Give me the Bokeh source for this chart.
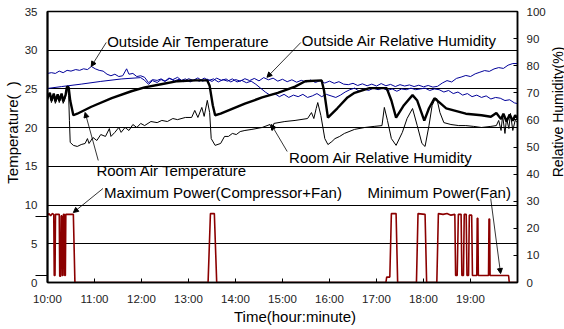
import numpy as np
from bokeh.plotting import figure
from bokeh.layouts import row
from bokeh.models import Range1d, LinearAxis, FixedTicker, Label, Arrow, NormalHead
from bokeh.embed import file_html
from bokeh.resources import INLINE

# ---------------- data (time in minutes after 10:00) ----------------
hour_ticks = [10, 11, 12, 13, 14, 15, 16, 17, 18, 19, 20]
hour_labels = ["10:00", "11:00", "12:00", "13:00", "14:00", "15:00",
               "16:00", "17:00", "18:00", "19:00", ""]
temp_ticks = [0, 5, 10, 15, 20, 25, 30, 35]
power_marks = [0.9, 8.5]
rh_ticks = [0, 10, 20, 30, 40, 50, 60, 70, 80, 90, 100]

outside_temp_min = [0, 5, 10, 15, 20, 25, 30, 36, 41, 46, 51, 56, 61, 66, 71, 76, 81, 86, 91, 96,
                    101, 104, 109, 114, 119, 124, 129, 134, 140, 145, 150, 155, 160, 166, 171, 176,
                    182, 188, 194, 200, 206, 212, 218, 224, 230, 236, 242, 248, 254, 260, 266, 272,
                    278, 284, 290, 296, 302, 308, 314, 320, 326, 332, 338, 344, 350, 356, 362, 368,
                    374, 380, 386, 392, 398, 404, 410, 416, 422, 428, 434, 440, 446, 452, 458, 464,
                    470, 476, 482, 488, 494, 500, 506, 512, 518, 524, 530, 536, 542, 548, 554, 560,
                    566, 572, 578, 584, 590, 596, 600]
outside_temp = [27.0, 27.1, 27.0, 27.3, 27.1, 27.4, 27.3, 27.5, 27.4, 27.6, 27.5, 27.9, 27.6, 27.4,
                27.3, 26.9, 26.7, 26.9, 26.6, 26.7, 27.6, 26.9, 27.0, 26.6, 26.7, 26.5, 25.8, 26.2,
                26.1, 26.3, 26.0, 26.4, 26.2, 26.5, 26.1, 26.3, 25.9, 26.2, 26.0, 26.4, 26.1, 26.3,
                25.9, 26.2, 26.0, 26.3, 25.9, 26.1, 25.8, 26.0, 25.6, 25.1, 24.6, 24.2, 24.4, 24.0,
                24.3, 23.9, 24.2, 24.0, 24.3, 23.9, 24.1, 24.4, 24.0, 24.3, 24.1, 23.9, 24.2, 24.6,
                24.9, 25.1, 24.7, 25.0, 24.8, 25.1, 24.9, 25.1, 24.8, 25.0, 24.7, 25.0, 24.9, 25.1,
                24.9, 25.0, 25.1, 24.8, 25.0, 24.9, 24.6, 24.8, 24.4, 24.6, 24.2, 24.4, 24.0, 24.2,
                23.9, 24.1, 23.7, 23.9, 23.8, 23.5, 23.6, 23.2, 23.1]

outside_rh_min = [0, 18, 43, 68, 94, 119, 124, 129, 134, 140, 145, 150, 156, 162, 168, 174, 180,
                  186, 192, 198, 204, 210, 216, 222, 228, 234, 240, 246, 252, 258, 264, 270, 276,
                  282, 288, 294, 300, 306, 312, 318, 324, 330, 336, 342, 348, 354, 360, 366, 372,
                  378, 384, 390, 396, 402, 408, 414, 420, 426, 432, 438, 444, 450, 456, 462, 468,
                  474, 480, 486, 492, 498, 504, 510, 516, 522, 528, 534, 540, 546, 552, 558, 564,
                  570, 576, 582, 588, 594, 600]
outside_rh = [71.6, 72.3, 73.2, 74.2, 75.1, 75.6, 74.6, 73.1, 74.5, 73.8, 74.9, 74.2, 75.3, 74.4,
              75.0, 74.1, 75.2, 74.6, 75.5, 74.3, 75.0, 74.2, 75.4, 74.6, 75.1, 74.0, 74.9, 74.3,
              75.2, 74.5, 75.3, 74.4, 75.6, 74.8, 75.4, 74.3, 75.0, 74.1, 74.8, 73.9, 74.6, 74.0,
              74.7, 73.8, 74.5, 73.6, 74.3, 73.5, 74.1, 73.2, 73.0, 73.5, 72.7, 73.3, 72.6, 73.2,
              72.5, 73.4, 72.6, 73.1, 72.3, 73.0, 72.5, 72.9, 72.3, 72.8, 72.2, 72.7, 72.1, 72.4,
              73.6, 74.5, 74.0, 75.3, 75.8, 76.4, 76.0, 77.0, 77.6, 78.2, 77.9, 78.8, 79.3, 79.0,
              80.2, 80.8, 80.8]

room_temp_min = [0, 3, 5, 8, 10, 13, 15, 18, 20, 23, 24, 25, 27, 29, 33, 38, 56, 82, 107, 124,
                 145, 166, 189, 204, 207, 211, 214, 221, 252, 274, 294, 316, 329, 350, 353, 358,
                 370, 383, 392, 411, 433, 439, 445, 455, 466, 472, 481, 487, 494, 501, 509, 534,
                 554, 566, 573, 579, 582, 586, 590, 594, 597, 600]
room_temp = [23.9, 24.5, 23.5, 24.4, 23.4, 24.3, 23.5, 24.4, 23.4, 24.2, 24.8, 25.3, 25.2, 23.5,
             21.6, 21.8, 22.7, 23.8, 24.7, 25.2, 25.6, 26.0, 26.1, 26.1, 25.4, 22.9, 21.6, 21.8,
             23.1, 23.9, 24.5, 25.3, 26.0, 26.1, 24.8, 21.3, 22.5, 23.9, 24.5, 25.1, 25.1, 23.5,
             21.3, 22.9, 24.2, 23.5, 20.9, 22.5, 23.8, 23.2, 22.5, 21.8, 21.6, 21.4, 21.9, 21.1,
             21.8, 20.8, 21.7, 20.9, 21.6, 21.2]

room_rh_min = [0, 3, 5, 8, 10, 13, 15, 18, 20, 23, 24, 25, 27, 28, 29, 33, 38, 43, 48, 51, 53,
               58, 63, 68, 74, 79, 81, 86, 91, 94, 99, 104, 109, 114, 119, 124, 132, 140, 146,
               153, 160, 166, 176, 184, 188, 192, 197, 200, 204, 207, 209, 214, 221, 226, 231,
               236, 241, 246, 252, 261, 274, 284, 287, 289, 303, 316, 332, 337, 340, 343, 345,
               349, 354, 358, 363, 367, 373, 379, 392, 405, 417, 427, 430, 434, 439, 445, 453,
               459, 466, 472, 478, 482, 487, 491, 494, 497, 501, 506, 515, 525, 534, 544, 554,
               566, 573, 576, 579, 581, 584, 586, 589, 591, 594, 597, 600]
room_rh = [67.2, 69.7, 66.4, 69.0, 66.1, 68.6, 66.4, 69.0, 66.1, 68.3, 70.8, 72.3, 69.0, 59.8,
           51.7, 50.6, 50.2, 50.9, 51.3, 53.1, 51.3, 53.5, 52.4, 54.6, 53.9, 56.8, 53.9, 55.4,
           57.2, 55.4, 57.2, 56.1, 58.3, 57.2, 58.7, 57.9, 59.4, 59.0, 59.8, 59.4, 60.5, 60.1,
           60.9, 60.9, 63.5, 60.9, 64.6, 61.3, 67.2, 62.7, 53.1, 50.6, 51.3, 53.9, 53.9, 55.0,
           54.6, 55.7, 56.1, 56.5, 57.2, 58.3, 56.1, 58.7, 59.4, 59.8, 60.5, 62.7, 60.5, 64.2,
           66.4, 61.6, 53.1, 50.9, 52.0, 53.1, 53.9, 55.0, 56.5, 57.2, 57.6, 57.9, 64.6, 59.8,
           53.1, 50.6, 55.4, 60.5, 64.2, 57.9, 51.3, 50.2, 57.9, 65.3, 67.2, 67.9, 62.7, 59.0,
           58.3, 57.9, 57.9, 57.6, 57.2, 57.6, 57.9, 59.8, 56.1, 61.6, 55.0, 60.5, 56.8, 62.4,
           56.1, 59.8, 59.0]

# power level, drawn on the temperature scale (max ~8.9, fan only ~0.9, off 0)
power_min = [0, 2, 4, 6, 8, 8.6, 9.6, 10.2, 15.0, 15.6, 16.8, 17.4, 18.4, 19.0, 19.8, 20.4,
             21.4, 22.0, 22.8, 23.4, 33.0, 35.0, 205.0, 208.0, 213.0, 216.0, 432.0, 433.0,
             437.0, 439.0, 445.0, 447.0, 471.0, 473.0, 482.0, 484.0, 497.0, 499.0, 505.0,
             510.0, 515.0, 520.0, 521.0, 523.0, 524.5, 528.0, 529.0, 531.0, 532.0, 534.5,
             535.5, 537.5, 538.5, 541.5, 542.5, 548.0, 548.6, 549.4, 550.0, 563.0, 563.6,
             564.4, 565.0, 588.6, 589.5, 600.0]
power = [8.7, 8.9, 8.6, 8.9, 8.8, 0.9, 0.9, 8.8, 8.8, 0.8, 0.8, 8.6, 8.6, 0.9, 0.9, 8.8, 8.8,
         0.9, 0.9, 8.8, 8.8, 0.0, 0.0, 8.9, 8.9, 0.0, 0.0, 0.7, 0.7, 8.9, 8.9, 0.0, 0.0, 8.9,
         8.8, 0.0, 0.0, 8.9, 8.8, 8.9, 8.7, 8.8, 0.9, 0.9, 8.8, 8.8, 0.9, 0.9, 8.8, 8.8, 0.9,
         0.9, 8.7, 8.7, 0.9, 0.9, 8.3, 8.3, 0.9, 0.9, 8.2, 8.2, 0.9, 0.9, 0.0, 0.0]


def hours(mins):
    return 10 + np.array(mins, dtype=float) / 60.0


FONT = "Liberation Sans"
BLUE = "#000099"
RED = "#8B0000"
NB = "\u00a0"

p = figure(width=548, height=329, x_range=Range1d(10, 20), y_range=Range1d(0, 35),
           output_backend="svg", toolbar_location=None,
           min_border_left=46, min_border_right=29, min_border_top=11, min_border_bottom=47)
p.extra_y_ranges = {"rh": Range1d(0, 100)}
p.background_fill_color = "white"
p.border_fill_color = "white"
p.outline_line_color = "black"
p.outline_line_width = 1.5

# grid
p.xgrid.visible = False
p.ygrid.ticker = FixedTicker(ticks=[5, 10, 15, 20, 25, 30])
p.ygrid.grid_line_color = "black"
p.ygrid.grid_line_alpha = 1.0
p.ygrid.grid_line_width = 1

# axes
xa = p.xaxis[0]
xa.ticker = FixedTicker(ticks=hour_ticks)
xa.major_label_overrides = {t: l for t, l in zip(hour_ticks, hour_labels)}
xa.major_tick_in = 4
xa.major_tick_out = 0
xa.minor_tick_line_color = None
xa.major_label_standoff = 10
xa.axis_line_width = 1.5
xa.axis_label = NB * 6 + "Time(hour:minute)"
xa.axis_label_standoff = 0

ya = p.yaxis[0]
ya.ticker = FixedTicker(ticks=temp_ticks, minor_ticks=power_marks)
ya.major_tick_in = 0
ya.major_tick_out = 0
ya.minor_tick_in = 0
ya.minor_tick_out = 12
ya.minor_tick_line_color = "black"
ya.minor_tick_line_width = 1
ya.major_label_standoff = -2
ya.axis_line_width = 2
ya.axis_label = NB * 7 + "Temperature(" + NB + NB + ")"
ya.axis_label_standoff = 1

ra = LinearAxis(y_range_name="rh", ticker=FixedTicker(ticks=rh_ticks))
ra.major_tick_in = 4
ra.major_tick_out = 0
ra.minor_tick_line_color = None
ra.major_label_standoff = 9
ra.axis_line_width = 1.5
p.add_layout(ra, "right")

for ax in (xa, ya, ra):
    ax.major_label_text_font = FONT
    ax.major_label_text_font_size = "11.5px"
    ax.major_label_text_color = "#222222"
    ax.axis_line_color = "black"
    ax.major_tick_line_color = "black"
    ax.axis_label_text_font = FONT
    ax.axis_label_text_font_size = "15px"
    ax.axis_label_text_font_style = "normal"
    ax.axis_label_text_color = "black"

# series
p.line(hours(outside_temp_min), outside_temp, line_color=BLUE, line_width=1)
p.line(hours(outside_rh_min), outside_rh, line_color=BLUE, line_width=1, y_range_name="rh")
p.line(hours(room_rh_min), room_rh, line_color="black", line_width=1, y_range_name="rh")
p.line(hours(room_temp_min), room_temp, line_color="black", line_width=2.4)
p.line(hours(power_min), power, line_color=RED, line_width=1.6)


# annotations
def note(text, x, y, size="15px"):
    p.add_layout(Label(x=x, y=y, text=text, text_font=FONT, text_font_size=size,
                       text_align="left", text_baseline="middle", text_color="black"))


def pointer(x0, y0, x1, y1):
    p.add_layout(Arrow(end=NormalHead(size=5, fill_color="black", line_color="black"),
                       x_start=x0, y_start=y0, x_end=x1, y_end=y1,
                       line_color="black", line_width=0.8))


note("Outside Air Temperature", 11.27, 31.1)
pointer(11.25, 31.0, 10.93, 27.9)
note("Outside Air Relative Humidity", 15.41, 31.3)
pointer(15.39, 31.0, 14.67, 26.5)
note("Room Air Temperature", 11.04, 14.46)
pointer(11.08, 15.76, 10.80, 21.96)
note("Room Air Relative Humidity", 15.14, 16.08)
pointer(15.10, 16.92, 14.76, 20.41)
note("Maximum Power(Compressor+Fan)", 11.2, 11.62)
pointer(11.18, 12.14, 10.55, 9.04)
note("Minimum Power(Fan)", 16.81, 11.62)
pointer(19.43, 10.85, 19.64, 1.16)

# narrow strip to the right holding the right-axis title (reads bottom to top)
q = figure(width=16, height=329, x_range=Range1d(0, 16), y_range=Range1d(0, 329),
           output_backend="svg", toolbar_location=None,
           x_axis_location=None, y_axis_location=None, min_border=0)
q.grid.visible = False
q.outline_line_color = None
q.background_fill_color = "white"
q.border_fill_color = "white"
q.add_layout(Label(x=9, y=207, text="Relative Humidity(%)", angle=np.pi / 2,
                   text_font=FONT, text_font_size="14px", text_align="center",
                   text_baseline="middle", text_color="black"))

layout = row(p, q, spacing=0)
open("out.html", "w").write(file_html(layout, INLINE))
